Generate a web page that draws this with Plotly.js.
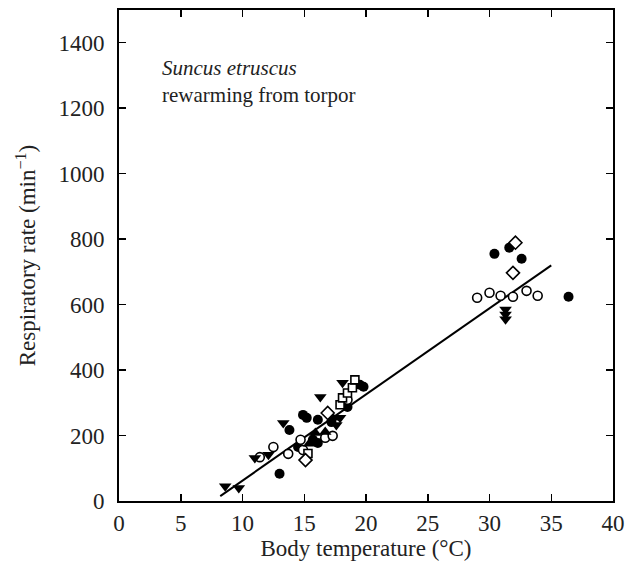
<!DOCTYPE html>
<html>
<head>
<meta charset="utf-8">
<script src="https://cdn.plot.ly/plotly-3.0.1.min.js"></script>
<style>html,body{margin:0;padding:0;background:#fff;}#chart{width:633px;height:568px;}</style>
</head>
<body>
<div id="chart"></div>
<script>
// Filled circles
const fcX = [13.0, 13.8, 14.9, 15.2, 16.1, 14.5, 15.7, 16.1, 17.2, 18.5, 19.5, 19.8, 30.4, 31.6, 32.6, 36.4];
const fcY = [83, 217, 263, 254, 248, 165, 187, 177, 241, 287, 355, 349, 755, 774, 740, 624];
// Open circles
const ocX = [11.4, 12.5, 13.7, 14.7, 14.9, 16.7, 17.3, 18.5, 29.0, 30.0, 30.9, 31.9, 33.0, 33.9];
const ocY = [134, 165, 144, 187, 156, 193, 199, 309, 621, 636, 627, 624, 642, 627];
// Filled triangles (down)
const tdX = [8.6, 9.7, 11.0, 12.1, 13.3, 16.3, 17.6, 17.9, 18.1, 31.3, 31.3, 31.3];
const tdY = [45, 40, 131, 141, 238, 318, 232, 254, 361, 585, 570, 555];
// Filled triangles (up)
const tuX = [15.9, 16.7, 17.3, 15.4];
const tuY = [208, 211, 254, 175];
// Open squares
const osX = [15.3, 17.9, 18.1, 18.5, 18.9, 19.1];
const osY = [145, 294, 315, 330, 346, 370];
// Open diamonds
const odX = [15.1, 16.9, 32.1, 31.9];
const odY = [125, 269, 789, 697];
// Regression line
const lineX = [8.2, 35];
const lineY = [15, 720];
const xTicks = [0, 5, 10, 15, 20, 25, 30, 35, 40];
const yTicks = [0, 200, 400, 600, 800, 1000, 1200, 1400];

const FONT = 'Liberation Serif, Times New Roman, serif';
function pts(x, y, symbol, size, fill) {
  return {
    x: x, y: y, type: 'scatter', mode: 'markers', hoverinfo: 'skip',
    marker: { symbol: symbol, size: size, color: fill ? '#000' : '#fff',
      line: { color: '#000', width: fill ? 0 : 1.6 } }
  };
}
const data = [
  { x: lineX, y: lineY, type: 'scatter', mode: 'lines', line: { color: '#000', width: 2 }, hoverinfo: 'skip' },
  pts(fcX, fcY, 'circle', 10, true),
  pts(ocX, ocY, 'circle', 9, false),
  pts(tdX, tdY, 'triangle-down', 11, true),
  pts(tuX, tuY, 'triangle-up', 11, true),
  pts(osX, osY, 'square', 8, false),
  pts(odX, odY, 'diamond', 10, false)
];
const axisCommon = {
  showgrid: false, zeroline: false, showline: true, linecolor: '#000', linewidth: 2,
  mirror: 'ticks', ticks: 'inside', ticklen: 7, tickwidth: 1.5, tickcolor: '#000',
  tickfont: { family: FONT, size: 23, color: '#222' }
};
const layout = {
  width: 633, height: 568,
  margin: { l: 119, r: 20, t: 10, b: 67 },
  paper_bgcolor: '#fff', plot_bgcolor: '#fff',
  showlegend: false,
  font: { family: FONT, color: '#000' },
  xaxis: Object.assign({}, axisCommon, {
    range: [0, 40], tickvals: xTicks, ticktext: xTicks.map(String),
    ticklabelstandoff: 0,
    title: { text: 'Body temperature (°C)', font: { family: FONT, size: 23, color: '#222' }, standoff: 4 }
  }),
  yaxis: Object.assign({}, axisCommon, {
    range: [0, 1500], tickvals: yTicks, ticktext: yTicks.map(String),
    ticklabelstandoff: 8,
    title: { text: 'Respiratory rate (min<sup>−1</sup>)', font: { family: FONT, size: 23, color: '#222' }, standoff: 16 }
  }),
  annotations: [
    { x: 3.3, y: 1323, xref: 'x', yref: 'y', xanchor: 'left', yanchor: 'middle', showarrow: false,
      text: '<i>Suncus etruscus</i>', font: { family: FONT, size: 21, color: '#222' } },
    { x: 3.3, y: 1241, xref: 'x', yref: 'y', xanchor: 'left', yanchor: 'middle', showarrow: false,
      text: 'rewarming from torpor', font: { family: FONT, size: 21, color: '#222' } }
  ]
};
Plotly.newPlot('chart', data, layout, { displayModeBar: false, staticPlot: true });
</script>
</body>
</html>
